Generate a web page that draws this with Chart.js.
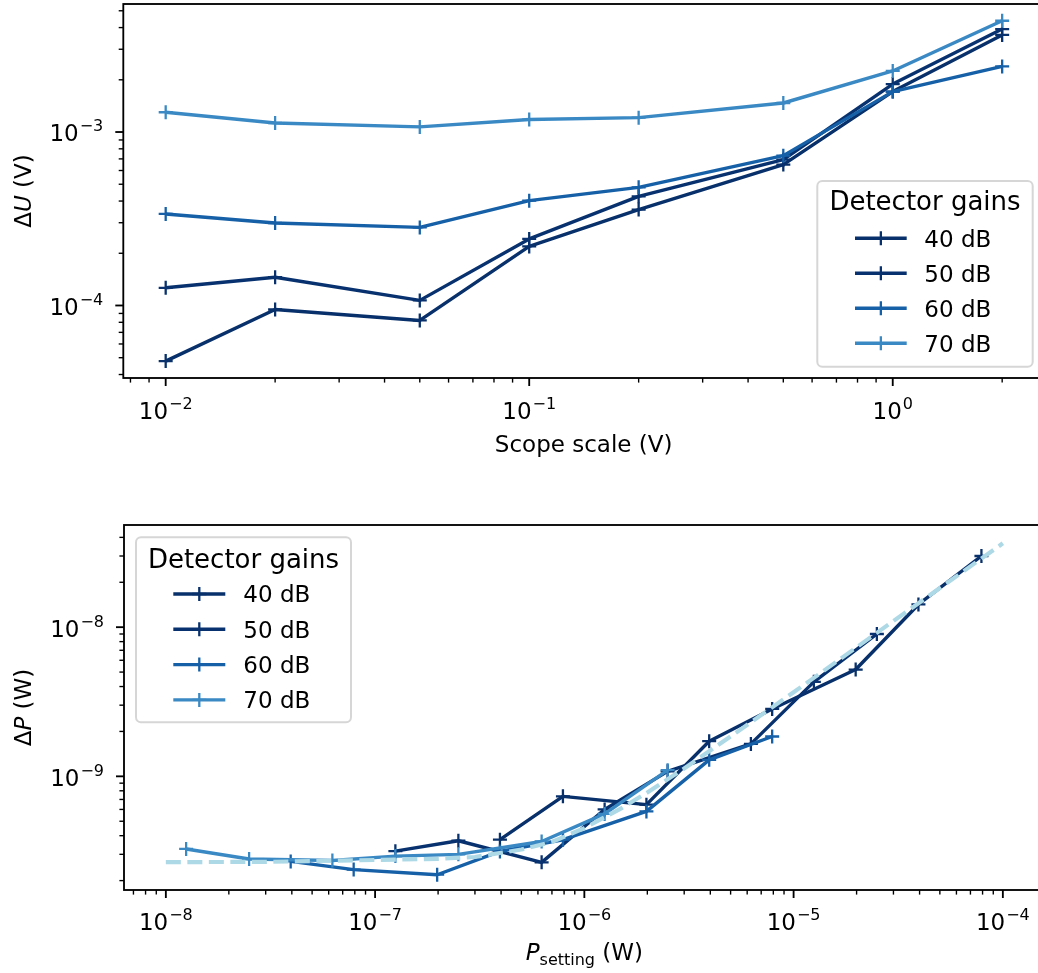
<!DOCTYPE html>
<html>
<head>
<meta charset="utf-8">
<script src="https://cdn.jsdelivr.net/npm/chart.js@4.4.1/dist/chart.umd.min.js"></script>
<style>
html, body { margin: 0; padding: 0; overflow: hidden; background: #fff; }
#page { position: relative; width: 1038px; height: 973px; overflow: hidden; }
.box { position: absolute; left: 0; width: 1060px; }
#topBox { top: 0; height: 470px; }
#bottomBox { top: 470px; height: 503px; }
</style>
</head>
<body>
<div id="page">
  <div class="box" id="topBox"><canvas id="topChart"></canvas></div>
  <div class="box" id="bottomBox"><canvas id="bottomChart"></canvas></div>
</div>
<script>
const FONT = '"DejaVu Sans"';
const legendTitle = 'Detector gains';
const gains = ['40 dB', '50 dB', '60 dB', '70 dB'];
const gainColors = ['#08306b', '#08326f', '#1660a8', '#3a89c4'];
const fitColor = '#add8e6';

// top panel: noise vs scope scale
const scopeScale = [0.01, 0.02, 0.05, 0.1, 0.2, 0.5, 1, 2];
const dU40 = [4.78e-5, 9.48e-5, 8.2e-5, 2.19e-4, 3.57e-4, 6.49e-4, 1.71e-3, 3.63e-3];
const dU50 = [1.265e-4, 1.455e-4, 1.07e-4, 2.42e-4, 4.26e-4, 6.93e-4, 1.89e-3, 3.92e-3];
const dU60 = [3.37e-4, 2.99e-4, 2.82e-4, 4.02e-4, 4.80e-4, 7.31e-4, 1.71e-3, 2.39e-3];
const dU70 = [1.30e-3, 1.127e-3, 1.07e-3, 1.18e-3, 1.21e-3, 1.47e-3, 2.25e-3, 4.38e-3];

// bottom panel: power noise vs power setting
const p40 = [3.95e-7, 7.9e-7, 1.98e-6, 3.95e-6, 7.9e-6, 1.98e-5, 3.95e-5, 7.9e-5];
const p50 = [1.25e-7, 2.5e-7, 6.25e-7, 1.25e-6, 2.5e-6, 6.25e-6, 1.25e-5, 2.5e-5];
const p60 = [3.95e-8, 7.9e-8, 1.98e-7, 3.95e-7, 7.9e-7, 1.98e-6, 3.95e-6, 7.9e-6];
const p70 = [1.25e-8, 2.5e-8, 6.25e-8, 1.25e-7, 2.5e-7, 6.25e-7, 1.25e-6, 2.5e-6];
const dP40 = [3.76e-10, 7.34e-10, 6.46e-10, 1.72e-9, 2.83e-9, 5.2e-9, 1.42e-8, 3.0e-8];
const dP50 = [3.15e-10, 3.70e-10, 2.65e-10, 6.0e-10, 1.08e-9, 1.65e-9, 4.3e-9, 9.0e-9];
const dP60 = [2.69e-10, 2.37e-10, 2.19e-10, 3.14e-10, 3.76e-10, 5.82e-10, 1.29e-9, 1.85e-9];
const dP70 = [3.26e-10, 2.79e-10, 2.73e-10, 2.92e-10, 3.0e-10, 3.66e-10, 5.6e-10, 1.1e-9];

// dashed fit curve
const fitP = [1e-8, 3e-8, 1e-7, 2e-7, 3e-7, 5e-7, 7e-7, 1e-6, 1.5e-6, 2e-6, 3e-6, 5e-6, 1e-5, 3e-5, 1e-4];
const fitDP = [2.66e-10, 2.67e-10, 2.75e-10, 2.8e-10, 2.88e-10, 3.23e-10, 3.63e-10, 4.5e-10, 6.1e-10, 7.8e-10, 1.13e-9, 1.85e-9, 3.66e-9, 1.1e-8, 3.65e-8];

function gainSet(i, xs, ys) {
  return {
    label: gains[i],
    data: xs.map((x, j) => ({ x: x, y: ys[j] })),
    borderColor: gainColors[i],
    backgroundColor: gainColors[i],
    borderWidth: 3.4,
    borderJoinStyle: 'round',
    pointStyle: 'cross',
    pointRadius: 7,
    pointHoverRadius: 7,
    pointBorderWidth: 2.3,
    fill: false,
    tension: 0,
    order: 10 - i
  };
}

function pow10Label(ctx, exp, x, baseY, align) {
  const base = '10';
  const sup = exp < 0 ? '\u2212' + (-exp) : String(exp);
  ctx.font = '23px ' + FONT;
  const wb = ctx.measureText(base).width;
  ctx.font = '16px ' + FONT;
  const ws = ctx.measureText(sup).width;
  const total = wb + 1 + ws;
  const left = align === 'center' ? x - total / 2 : x - total;
  ctx.textAlign = 'left';
  ctx.textBaseline = 'alphabetic';
  ctx.font = '23px ' + FONT;
  ctx.fillText(base, left, baseY);
  ctx.font = '16px ' + FONT;
  ctx.fillText(sup, left + wb + 1, baseY - 10);
}

// text runs: [text, size, italic, dy]
function drawRuns(ctx, runs, cx, baseY) {
  let total = 0;
  runs.forEach(r => {
    ctx.font = (r[2] ? 'italic ' : '') + r[1] + 'px ' + FONT;
    r.w = ctx.measureText(r[0]).width;
    total += r.w;
  });
  let x = cx - total / 2;
  ctx.textAlign = 'left';
  ctx.textBaseline = 'alphabetic';
  runs.forEach(r => {
    ctx.font = (r[2] ? 'italic ' : '') + r[1] + 'px ' + FONT;
    ctx.fillText(r[0], x, baseY + (r[3] || 0));
    x += r.w;
  });
}

function drawLegend(ctx, L, sets) {
  ctx.save();
  ctx.beginPath();
  ctx.roundRect(L.x, L.y, L.w, L.h, 5);
  ctx.fillStyle = 'rgba(255,255,255,0.8)';
  ctx.fill();
  ctx.lineWidth = 2;
  ctx.strokeStyle = 'rgba(204,204,204,0.8)';
  ctx.stroke();
  ctx.fillStyle = '#000';
  ctx.font = '26px ' + FONT;
  ctx.textAlign = 'center';
  ctx.textBaseline = 'alphabetic';
  ctx.fillText(legendTitle, L.x + L.w / 2, L.titleY);
  sets.forEach((s, i) => {
    const y = L.rowY + i * L.step;
    const cx = (L.hx0 + L.hx1) / 2;
    ctx.strokeStyle = s.borderColor;
    ctx.lineCap = 'butt';
    ctx.lineWidth = 3.4;
    ctx.beginPath();
    ctx.moveTo(L.hx0, y);
    ctx.lineTo(L.hx1, y);
    ctx.stroke();
    ctx.lineWidth = 2.3;
    ctx.beginPath();
    ctx.moveTo(cx - 7, y); ctx.lineTo(cx + 7, y);
    ctx.moveTo(cx, y - 7); ctx.lineTo(cx, y + 7);
    ctx.stroke();
    ctx.fillStyle = '#000';
    ctx.font = '23px ' + FONT;
    ctx.textAlign = 'left';
    ctx.fillText(s.label, L.tx, y + 8.4);
  });
  ctx.restore();
}

// matplotlib-like frame, log ticks, labels and legend
function mplPlugin(opts) {
  return {
    id: 'mpl',
    afterDraw(chart) {
      const ctx = chart.ctx, a = chart.chartArea;
      ctx.save();
      ctx.strokeStyle = '#000';
      ctx.fillStyle = '#000';
      ctx.lineWidth = 1.84;
      ctx.strokeRect(a.left, a.top, a.right - a.left, a.bottom - a.top);
      const ticks = (scale, isX) => {
        const lo = Math.log10(scale.min), hi = Math.log10(scale.max);
        for (let d = Math.floor(lo); d <= Math.ceil(hi); d++) {
          for (let m = 1; m <= 9; m++) {
            const v = m * Math.pow(10, d);
            const lv = d + Math.log10(m);
            if (lv < lo - 1e-9 || lv > hi + 1e-9) continue;
            const major = m === 1;
            const len = major ? 8 : 4.6;
            const p = scale.getPixelForValue(v);
            ctx.lineWidth = major ? 1.84 : 1.38;
            ctx.beginPath();
            if (isX) { ctx.moveTo(p, a.bottom); ctx.lineTo(p, a.bottom + len); }
            else { ctx.moveTo(a.left, p); ctx.lineTo(a.left - len, p); }
            ctx.stroke();
            if (major) {
              if (isX) pow10Label(ctx, d, p, a.bottom + opts.xLabelDy, 'center');
              else pow10Label(ctx, d, a.left - 20, p + 9.4, 'right');
            }
          }
        }
      };
      ticks(chart.scales.x, true);
      ticks(chart.scales.y, false);

      ctx.fillStyle = '#000';
      drawRuns(ctx, opts.xTitle, (a.left + a.right) / 2, opts.xTitleY);
      ctx.save();
      ctx.translate(opts.yTitleX, (a.top + a.bottom) / 2);
      ctx.rotate(-Math.PI / 2);
      drawRuns(ctx, opts.yTitle, 0, 0);
      ctx.restore();

      const sets = chart.data.datasets.filter(s => gains.includes(s.label));
      sets.sort((p, q) => gains.indexOf(p.label) - gains.indexOf(q.label));
      drawLegend(ctx, opts.legend, sets);
      ctx.restore();
    }
  };
}

function baseOptions(xr, yr, pad) {
  return {
    responsive: true,
    maintainAspectRatio: false,
    animation: false,
    devicePixelRatio: 1,
    events: [],
    layout: { padding: pad, autoPadding: false },
    plugins: { legend: { display: false }, tooltip: { enabled: false } },
    scales: {
      x: { type: 'logarithmic', display: false, bounds: 'data', min: xr[0], max: xr[1] },
      y: { type: 'logarithmic', display: false, bounds: 'data', min: yr[0], max: yr[1] }
    }
  };
}

Chart.defaults.font.family = FONT;

new Chart(document.getElementById('topChart'), {
  type: 'line',
  data: {
    datasets: [
      gainSet(0, scopeScale, dU40),
      gainSet(1, scopeScale, dU50),
      gainSet(2, scopeScale, dU60),
      gainSet(3, scopeScale, dU70)
    ]
  },
  options: baseOptions([Math.pow(10, -2.1166), Math.pow(10, 0.4161)],
    [Math.pow(10, -4.418), Math.pow(10, -2.262)],
    { left: 123.3, top: 4, right: 16, bottom: 92 }),
  plugins: [mplPlugin({
    xLabelDy: 41,
    xTitle: [['Scope scale (V)', 23, false]],
    xTitleY: 452,
    yTitleX: 31,
    yTitle: [['\u0394', 23, false], ['U', 23, true], [' (V)', 23, false]],
    legend: { x: 817.3, y: 181, w: 215.4, h: 185.7, titleY: 210, rowY: 238.3, step: 35,
      hx0: 855, hx1: 906.7, tx: 924.3 }
  })]
});

new Chart(document.getElementById('bottomChart'), {
  type: 'line',
  data: {
    datasets: [
      gainSet(0, p40, dP40),
      gainSet(1, p50, dP50),
      gainSet(2, p60, dP60),
      gainSet(3, p70, dP70),
      {
        label: 'fit',
        data: fitP.map((x, j) => ({ x: x, y: fitDP[j] })),
        borderColor: fitColor,
        borderWidth: 4.2,
        borderDash: [15, 6.5],
        pointRadius: 0,
        fill: false,
        tension: 0,
        order: 0
      }
    ]
  },
  options: baseOptions([Math.pow(10, -8.2), Math.pow(10, -3.8)],
    [Math.pow(10, -9.762), Math.pow(10, -7.315)],
    { left: 124, top: 55, right: 15.3, bottom: 83 }),
  plugins: [mplPlugin({
    xLabelDy: 40,
    xTitle: [['P', 23, true], ['setting', 16, false, 5], [' (W)', 23, false]],
    xTitleY: 490,
    yTitleX: 31,
    yTitle: [['\u0394', 23, false], ['P', 23, true], [' (W)', 23, false]],
    legend: { x: 136, y: 67.3, w: 215, h: 185, titleY: 98.3, rowY: 124, step: 35.3,
      hx0: 173.3, hx1: 225.3, tx: 243.3 }
  })]
});
</script>
</body>
</html>
